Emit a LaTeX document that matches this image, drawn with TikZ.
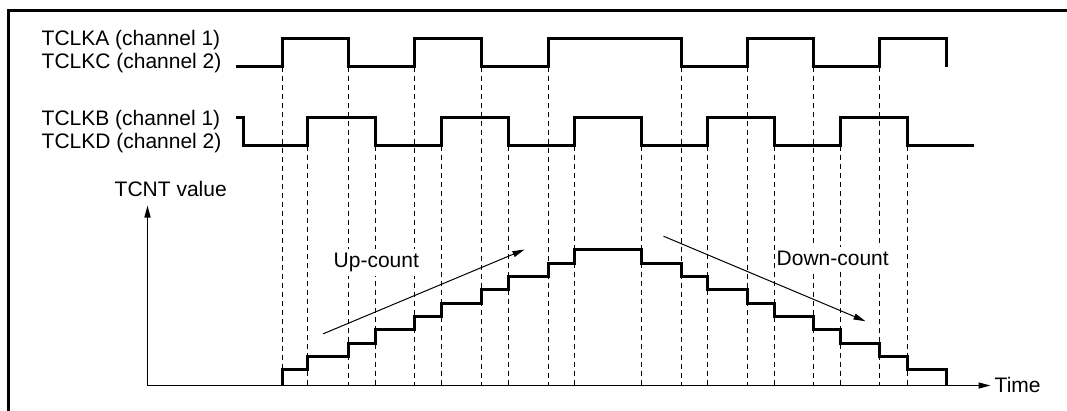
\documentclass[tikz,border=0pt]{standalone}
\usepackage{fontspec}
\setmainfont{Liberation Sans}
\usetikzlibrary{arrows.meta}
\begin{document}
\begin{tikzpicture}[x=1bp,y=-1bp,
  sig/.style={line width=3bp,line join=miter},
  guide/.style={line width=1.2bp,dash pattern=on 5bp off 4bp},
  axisline/.style={line width=1.4bp,-{Triangle[length=12bp,width=6bp]}},
  cnt/.style={line width=1bp,-{Triangle[length=12bp,width=6bp]}},
  lbl/.style={inner sep=0pt,anchor=base west,font=\fontsize{21bp}{25bp}\selectfont},
  boxlbl/.style={lbl,fill=white,inner xsep=2bp,inner ysep=4bp}]
\useasboundingbox (0,0) rectangle (1067,410);
\clip (0,0) rectangle (1067,410);
\begin{scope}[shift={(0.5,0.5)}]
% frame (top and left edges visible)
\draw[line width=3bp] (8,430) -- (8,10) -- (1090,10);
% guide lines
\foreach \x in {282,348,414,481,548,681,747,813,879}
  \draw[guide] (\x,66) -- (\x,385);
\foreach \x in {307,375,441,508,574,641,707,774,840,907}
  \draw[guide] (\x,145) -- (\x,385);
% labels
\node[lbl] (la) at (41,45) {TCLKA (channel 1)};
\node[lbl] (lc) at (41,68.3) {TCLKC (channel 2)};
\node[lbl] (lb) at (41,125) {TCLKB (channel 1)};
\node[lbl] (ld) at (41,148.3) {TCLKD (channel 2)};
\node[lbl] (tcnt) at (114,196) {TCNT value};
\node[boxlbl] (up) at (331,267.3) {Up-count};
\node[boxlbl] (down) at (774,265) {Down-count};
\node[lbl] (time) at (994,392) {Time};
% axes
\coordinate (o) at (147,385);
\coordinate (ytip) at (147,205);
\coordinate (xtip) at (990,385);
\draw[axisline] (o) -- (ytip);
\draw[axisline] (o) -- (xtip);
% channel A / C
\draw[sig] (235,66) -- (282,66) -- (282,38) -- (348,38) -- (348,66) -- (414,66)
  -- (414,38) -- (481,38) -- (481,66) -- (548,66) -- (548,38) -- (681,38)
  -- (681,66) -- (747,66) -- (747,38) -- (813,38) -- (813,66) -- (879,66)
  -- (879,38) -- (946,38) -- (946,66);
% channel B / D
\draw[sig] (235,117) -- (243,117) -- (243,145) -- (307,145) -- (307,117)
  -- (375,117) -- (375,145) -- (441,145) -- (441,117) -- (508,117) -- (508,145)
  -- (574,145) -- (574,117) -- (641,117) -- (641,145) -- (707,145) -- (707,117)
  -- (774,117) -- (774,145) -- (840,145) -- (840,117) -- (907,117) -- (907,145)
  -- (973,145);
% staircase
\draw[sig] (282,385) -- (282,369) -- (307,369) -- (307,356) -- (348,356)
  -- (348,343) -- (375,343) -- (375,329) -- (414,329) -- (414,316)
  -- (441,316) -- (441,303) -- (481,303) -- (481,289) -- (508,289)
  -- (508,276) -- (548,276) -- (548,263) -- (574,263) -- (574,249)
  -- (641,249) -- (641,263) -- (681,263) -- (681,276) -- (707,276)
  -- (707,289) -- (747,289) -- (747,303) -- (774,303) -- (774,316)
  -- (813,316) -- (813,329) -- (840,329) -- (840,343) -- (879,343)
  -- (879,356) -- (907,356) -- (907,369) -- (946,369) -- (946,385);
% count arrows
\coordinate (us) at (322.7,333.3);
\coordinate (ue) at (524,249);
\coordinate (ds) at (663,235.7);
\coordinate (de) at (865,320.7);
\draw[cnt] (us) -- (ue);
\draw[cnt] (ds) -- (de);
\end{scope}
\end{tikzpicture}
\end{document}
